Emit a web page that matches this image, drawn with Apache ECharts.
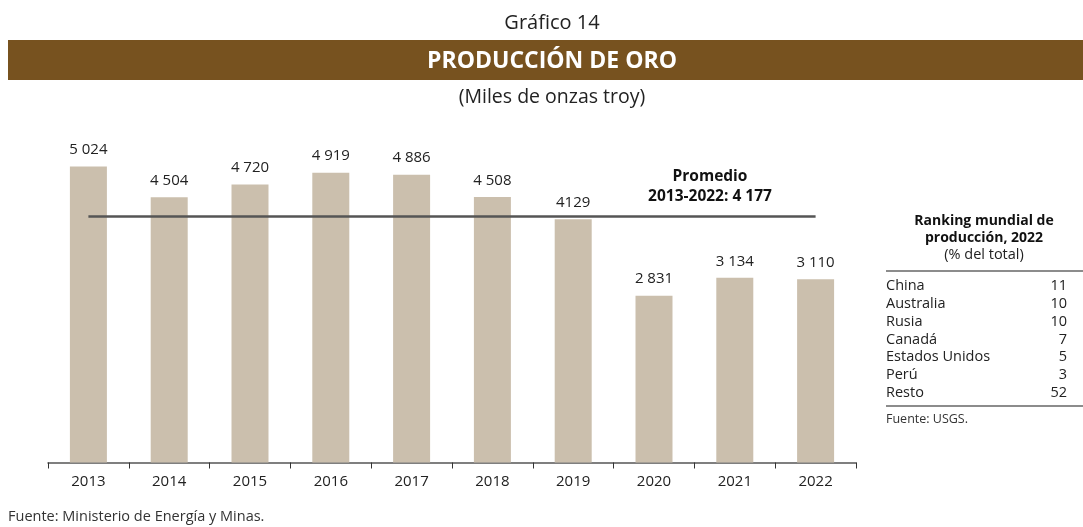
<!DOCTYPE html>
<html><head><meta charset="utf-8">
<script src="https://cdn.jsdelivr.net/npm/echarts@6/dist/echarts.min.js"></script>
<style>html,body{margin:0;padding:0;background:#fff}#c{width:1083px;height:527px}</style>
</head><body><div id="c"></div>
<script>
const categories = ['2013','2014','2015','2016','2017','2018','2019','2020','2021','2022'];
const production = [5024, 4504, 4720, 4919, 4886, 4508, 4129, 2831, 3134, 3110];
const valueLabels = ['5 024','4 504','4 720','4 919','4 886','4 508','4129','2 831','3 134','3 110'];
const average = 4177;
const averageLabel = ['Promedio', '2013-2022: 4 177'];
const rankCountries = ['China','Australia','Rusia','Canadá','Estados Unidos','Perú','Resto'];
const rankShares = [11, 10, 10, 7, 5, 3, 52];

const FONT = '"Open Sans", "Noto Sans", sans-serif';
const chart = echarts.init(document.getElementById('c'));

const graphics = [
  {type:'text', x:552, y:23, style:{text:'Gráfico 14', font:'20px '+FONT, fill:'#222', align:'center', verticalAlign:'middle'}},
  {type:'rect', shape:{x:8, y:40, width:1075, height:40}, style:{fill:'#77521F'}},
  {type:'text', x:552, y:61, style:{text:'PRODUCCIÓN DE ORO', font:'bold 23px '+FONT, fill:'#fff', align:'center', verticalAlign:'middle'}},
  {type:'text', x:552, y:97, style:{text:'(Miles de onzas troy)', font:'19.5px '+FONT, fill:'#222', align:'center', verticalAlign:'middle'}},
  {type:'text', x:710, y:177, style:{text:averageLabel[0], font:'bold 15.5px '+FONT, fill:'#111', align:'center', verticalAlign:'middle'}},
  {type:'text', x:710, y:197, style:{text:averageLabel[1], font:'bold 15.5px '+FONT, fill:'#111', align:'center', verticalAlign:'middle'}},
  {type:'text', x:984, y:221, style:{text:'Ranking mundial de', font:'bold 14px '+FONT, fill:'#111', align:'center', verticalAlign:'middle'}},
  {type:'text', x:984, y:238, style:{text:'producción, 2022', font:'bold 14px '+FONT, fill:'#111', align:'center', verticalAlign:'middle'}},
  {type:'text', x:984, y:255, style:{text:'(% del total)', font:'14.5px '+FONT, fill:'#222', align:'center', verticalAlign:'middle'}},
  {type:'line', shape:{x1:886, y1:271, x2:1083, y2:271}, style:{stroke:'#666', lineWidth:1.5}},
  {type:'line', shape:{x1:886, y1:406, x2:1083, y2:406}, style:{stroke:'#666', lineWidth:1.5}},
  {type:'text', x:886, y:419, style:{text:'Fuente: USGS.', font:'12.5px '+FONT, fill:'#333', verticalAlign:'middle'}},
  {type:'text', x:8, y:517, style:{text:'Fuente: Ministerio de Energía y Minas.', font:'14.5px '+FONT, fill:'#333', verticalAlign:'middle'}}
];
rankCountries.forEach((c, i) => {
  const y = 286 + i * 17.8;
  graphics.push({type:'text', x:886, y:y, style:{text:c, font:'14.5px '+FONT, fill:'#222', verticalAlign:'middle'}});
  graphics.push({type:'text', x:1067, y:y, style:{text:String(rankShares[i]), font:'14.5px '+FONT, fill:'#222', align:'right', verticalAlign:'middle'}});
});

chart.setOption({
  animation:false,
  grid:{left:48, right:227, top:109, bottom:64.5},
  xAxis:{type:'category', data:categories,
    axisLine:{lineStyle:{color:'#555', width:1.5}},
    axisTick:{show:true, inside:false, length:6, alignWithLabel:false, lineStyle:{color:'#333'}},
    axisLabel:{color:'#222', fontSize:15, fontFamily:FONT, margin:12}},
  yAxis:{type:'value', min:0, max:6000, show:false, splitLine:{show:false}},
  series:[{
    type:'bar', data:production, barWidth:37,
    itemStyle:{color:'#CBBFAD'},
    label:{show:true, position:'top', distance:9, color:'#222', fontSize:15, fontFamily:FONT,
      formatter:p => valueLabels[p.dataIndex]},
    markLine:{silent:true, symbol:'none', label:{show:false},
      lineStyle:{color:'#555', width:2.5, type:'solid'},
      data:[[{coord:[categories[0], average]}, {coord:[categories[categories.length-1], average]}]]}
  }],
  graphic:graphics
});
</script></body></html>
